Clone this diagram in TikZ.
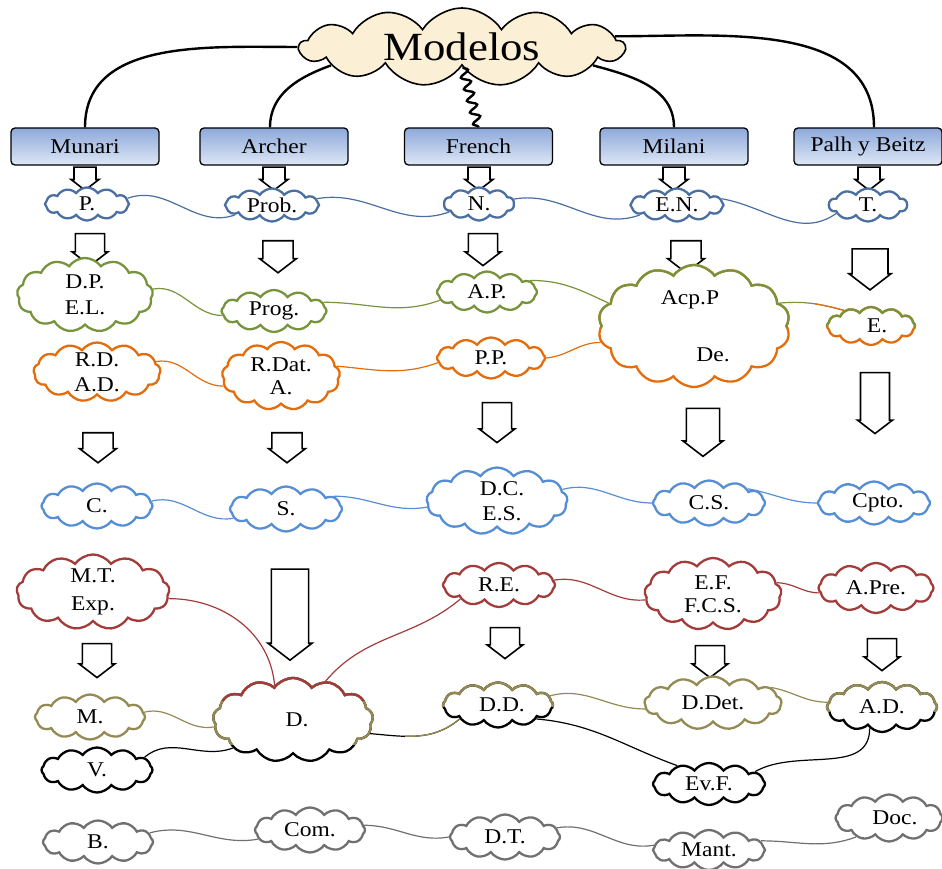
\documentclass[tikz,border=0pt]{standalone}
\usepackage{fontspec}
\setmainfont{Liberation Serif}[FakeStretch=1.12]
\usetikzlibrary{shapes.symbols,shapes.arrows,decorations.pathmorphing}

\definecolor{hdtop}{HTML}{8DA9DB}
\definecolor{hdbot}{HTML}{DEE7F5}
\definecolor{modfill}{HTML}{FBEFD6}
\definecolor{dblue}{HTML}{4A6FA0}
\definecolor{grn}{HTML}{77933C}
\definecolor{org}{HTML}{E46C0A}
\definecolor{lblue}{HTML}{558ED5}
\definecolor{dred}{HTML}{A23C3A}
\definecolor{olv}{HTML}{948A54}
\definecolor{gry}{HTML}{707070}

\begin{document}
\begin{tikzpicture}[x=1pt, y=1pt,
    % Styles
    hdr/.style={draw, line width=1.3pt, rounded corners=4pt, top color=hdtop, bottom color=hdbot,
                minimum width=148pt, minimum height=37pt, font=\fontsize{21}{24}\selectfont},
    cld/.style={cloud, cloud puffs=12, cloud puff arc=110, cloud ignores aspect, draw,
                fill=white, line width=2.3pt, inner sep=0pt},
    sz/.style 2 args={minimum width=#1pt, minimum height=#2pt},
    lbl/.style={font=\fontsize{21}{26}\selectfont, align=center},
    blk/.style={single arrow, draw=black, fill=white, line width=1.6pt, shape border rotate=270,
                single arrow tip angle=105, single arrow head extend=2pt},
    ar/.style n args={3}{minimum height=#1pt, minimum width=#2pt, inner sep=#3pt/2}, % length, head, shaft
    lk/.style={line width=1.2pt},
    trunk/.style={line width=2.4pt}
]
  \useasboundingbox (0,0) rectangle (942,869);

  % Top cloud
  \node[cld, cloud puffs=13, cloud puff arc=115, sz={325}{78}, fill=modfill, draw=black, line width=1.6pt,
        font=\fontsize{40}{46}\selectfont] (mod) at (462,822) {Modelos};

  % Authors
  \foreach \nm/\x/\txt in {munari/85/Munari, archer/274/Archer, french/478.5/French,
                           milani/674/Milani, palh/868/Palh y Beitz}
    \node[hdr] (\nm) at (\x,722.5) {\txt};

  \draw[trunk] (mod.180) to[out=180,in=90] (munari.north);
  \draw[trunk] (mod.188) to[out=200,in=90] ([xshift=-4pt]archer.north);
  \draw[trunk, decorate, decoration={snake, amplitude=4.5pt, segment length=12pt}]
    (mod.272) -- (french.north);
  \draw[trunk] (mod.-8) to[out=-15,in=90] (milani.north);
  \draw[trunk] (mod.4) to[out=0,in=90] ([xshift=6pt]palh.north);

  % Block arrows
  \foreach \nm/\x in {munari/85, archer/274, french/479, milani/674, palh/869}
    \node[blk, ar={17}{28}{13}] (\nm-ar) at (\x,694.5) {};
  \foreach \i/\x/\y/\l/\w/\s in {1/90/625/32/36/16, 2/278/618/32/37/16, 3/483/625/32/36/16,
                                 4/686/618/32/37/16, 5/870/606.5/41/42/22,
                                 6/98/427/30/37/16, 7/287/427/30/37/16, 8/497/452/40/36/16,
                                 9/703/443/48/40/18, 10/875/471.5/61/35/18,
                                 11/290/261.5/91/44/21,
                                 12/97/214/34/36/16, 13/505/231.5/31/36/16,
                                 14/710/213/32/36/16, 15/882/220/32/36/16}
    \node[blk, ar={\l}{\w}{\s}] (arr\i) at (\x,\y) {};

  % Row 1 (dark blue)
  \node[cld, draw=dblue, sz={84}{33}, label={[lbl]center:P.}] (p) at (87,665) {};
  \node[cld, draw=dblue, sz={94}{33}, label={[lbl]center:Prob.}] (prob) at (272,664) {};
  \node[cld, draw=dblue, cloud puffs=10, sz={70}{33}, label={[lbl]center:N.}] (n) at (479,665) {};
  \node[cld, draw=dblue, sz={93}{33}, label={[lbl]center:E.N.}] (en) at (677,664) {};
  \node[cld, draw=dblue, cloud puffs=10, sz={78}{33}, label={[lbl]center:T.}] (t) at (868,664) {};

  % Row 2 (green / orange)
  \node[cld, draw=grn, cloud puffs=13, sz={136}{74}, label={[lbl]center:D.P.\\E.L.}] (dpel) at (85,574) {};
  \node[cld, draw=grn, sz={105}{42}, label={[lbl]center:Prog.}] (prog) at (274,558) {};
  \node[cld, draw=grn, sz={100}{41}, label={[lbl]center:A.P.}] (ap) at (487,577) {};
  \node[cld, draw=org, cloud puffs=14, sz={192}{122},
        label={[lbl, xshift=-4pt, yshift=26pt]center:Acp.P},
        label={[lbl, xshift=19pt, yshift=-29pt]center:De.}] (acp) at (694,543) {};
  \begin{scope}
    \clip (590,541) rectangle (800,620);
    \node[cld, draw=grn, fill=none, cloud puffs=14, sz={192}{122}] (acp-top) at (694,543) {};
  \end{scope}
  \node[cld, draw=org, sz={88}{38}, label={[lbl, xshift=6pt]center:E.}] (e) at (871,543) {};
  \begin{scope}
    \clip (820,542) rectangle (925,570);
    \node[cld, draw=grn, fill=none, sz={88}{38}] (e-top) at (871,543) {};
  \end{scope}

  \node[cld, draw=org, cloud puffs=13, sz={127}{59}, label={[lbl]center:R.D.\\[-1pt]A.D.}] (rdad) at (97,497) {};
  \node[cld, draw=org, cloud puffs=13, sz={118}{68}, label={[lbl]center:R.Dat.\\[-3pt]A.}] (rdat) at (281,493) {};
  \node[cld, draw=org, sz={108}{41}, label={[lbl]center:P.P.}] (pp) at (491,511) {};

  % Row 3 (light blue)
  \node[cld, draw=lblue, sz={111}{45}, label={[lbl]center:C.}] (c) at (97,363) {};
  \node[cld, draw=lblue, sz={112}{45}, label={[lbl]center:S.}] (s) at (286,360) {};
  \node[cld, draw=lblue, cloud puffs=13, sz={141}{67}, label={[lbl, xshift=5pt]center:D.C.\\[-1pt]E.S.}] (dces) at (497,368) {};
  \node[cld, draw=lblue, sz={112}{45}, label={[lbl]center:C.S.}] (cs) at (709,366) {};
  \node[cld, draw=lblue, sz={112}{43}, label={[lbl, xshift=4pt]center:Cpto.}] (cpto) at (874,366) {};

  % Row 4 (dark red)
  \node[cld, draw=dred, cloud puffs=13, sz={153}{75}, label={[lbl]center:M.T.\\[2pt]Exp.}] (mtexp) at (93,277) {};
  \node[cld, draw=dred, sz={112}{44}, label={[lbl]center:R.E.}] (re) at (499,284) {};
  \node[cld, draw=dred, cloud puffs=13, sz={137}{72}, label={[lbl]center:E.F.\\[-3pt]F.C.S.}] (efcs) at (713,275) {};
  \node[cld, draw=dred, sz={115}{50}, label={[lbl]center:A.Pre.}] (apre) at (876,281) {};

  % Row 5
  \node[cld, draw=olv, sz={110}{45}, label={[lbl]center:M.}] (m) at (90,152) {};
  \node[cld, draw=black, sz={111}{45}, label={[lbl]center:V.}] (v) at (97,99) {};
  \node[cld, draw=black, cloud puffs=13, sz={160}{84}, label={[lbl, xshift=4pt]center:D.}] (d) at (293,149) {};
  \begin{scope}
    \clip (200,124) rectangle (390,240);
    \node[cld, draw=olv, fill=none, cloud puffs=13, sz={160}{84}] (d-mid) at (293,149) {};
  \end{scope}
  \begin{scope}
    \clip (200,168) rectangle (390,240);
    \node[cld, draw=dred, fill=none, cloud puffs=13, sz={160}{84}] (d-top) at (293,149) {};
  \end{scope}
  \node[cld, draw=black, sz={110}{45}, label={[lbl, xshift=4pt]center:D.D.}] (dd) at (498,164) {};
  \begin{scope}
    \clip (430,162) rectangle (570,200);
    \node[cld, draw=olv, fill=none, sz={110}{45}] (dd-top) at (498,164) {};
  \end{scope}
  \node[cld, draw=olv, cloud puffs=13, sz={137}{53}, label={[lbl]center:D.Det.}] (ddet) at (713,166) {};
  \node[cld, draw=black, sz={110}{50}, label={[lbl]center:A.D.}] (ad) at (882,162) {};
  \begin{scope}
    \clip (815,157) rectangle (942,200);
    \node[cld, draw=olv, fill=none, sz={110}{50}] (ad-top) at (882,162) {};
  \end{scope}
  \node[cld, draw=black, sz={112}{42}, label={[lbl]center:Ev.F.}] (evf) at (709,85) {};

  % Row 6 (gray)
  \node[cld, draw=gry, sz={110}{43}, label={[lbl]center:B.}] (b) at (98,27) {};
  \node[cld, draw=gry, sz={110}{45}, label={[lbl]center:Com.}] (com) at (310,39) {};
  \node[cld, draw=gry, sz={110}{45}, label={[lbl]center:D.T.}] (dt) at (505,32) {};
  \node[cld, draw=gry, sz={112}{40}, label={[lbl]center:Mant.}] (mant) at (709,19) {};
  \node[cld, draw=gry, sz={107}{47}, label={[lbl, xshift=6pt]center:Doc.}] (doc) at (889,51) {};

  % Links row 1
  \draw[lk, dblue] (p.8) to[out=20,in=200] (prob.195);
  \draw[lk, dblue] (prob.8) to[out=10,in=200] (n.195);
  \draw[lk, dblue] (n.8) to[out=10,in=200] (en.195);
  \draw[lk, dblue] (en.8) to[out=-10,in=215] (t.195);

  % Links row 2
  \draw[lk, grn] (dpel.5) to[out=10,in=180] (prog.185);
  \draw[lk, grn] (prog.10) to[out=0,in=200] (ap.190);
  \draw[lk, grn] (ap.15) to[out=0,in=155] (acp.165);
  \draw[lk, grn] (acp.15) to[out=5,in=165] (e.150);
  \begin{scope}
    \clip (815,530) rectangle (860,600);
    \draw[lk, org] (acp.15) to[out=5,in=165] (e.150);
  \end{scope}
  \draw[lk, org] (rdad.10) to[out=10,in=180] (rdat.190);
  \draw[lk, org] (rdat.10) to[out=-5,in=200] (pp.185);
  \draw[lk, org] (pp.0) to[out=5,in=180] (acp.190);

  % Links row 3
  \draw[lk, lblue] (c.5) to[out=15,in=190] (s.190);
  \draw[lk, lblue] (s.15) to[out=0,in=190] (dces.185);
  \draw[lk, lblue] (dces.10) to[out=15,in=180] (cs.180);
  \draw[lk, lblue] (cs.20) to[out=-10,in=180] (cpto.180);

  % Links row 4
  \draw[lk, dred] (mtexp.355) to[out=0,in=95] (d.118);
  \draw[lk, dred] (re.200) to[out=220,in=50] (d.50);
  \draw[lk, dred] (re.5) to[out=10,in=185] (efcs.185);
  \draw[lk, dred] (efcs.10) to[out=0,in=180] (apre.185);

  % Links row 5
  \draw[lk, olv] (m.5) to[out=15,in=190] (d.185);
  \draw[lk, black] (v.15) to[out=40,in=200] (d.205);
  \draw[lk, black] (d.350) to[out=-5,in=220] (dd.200);
  \begin{scope}
    \clip (405,100) rectangle (470,200);
    \draw[lk, olv] (d.350) to[out=-5,in=220] (dd.200);
  \end{scope}
  \draw[lk, olv] (dd.10) to[out=15,in=180] (ddet.185);
  \draw[lk, olv] (ddet.15) to[out=-10,in=180] (ad.175);
  \draw[lk, black] (dd.340) to[out=-5,in=160] (evf.150);
  \draw[lk, black] (evf.15) to[out=30,in=-90] (ad.240);

  % Links row 6
  \draw[lk, gry] (b.10) to[out=15,in=190] (com.190);
  \draw[lk, gry] (com.5) to[out=0,in=190] (dt.180);
  \draw[lk, gry] (dt.10) to[out=10,in=190] (mant.175);
  \draw[lk, gry] (mant.10) to[out=0,in=200] (doc.210);

\end{tikzpicture}
\end{document}
